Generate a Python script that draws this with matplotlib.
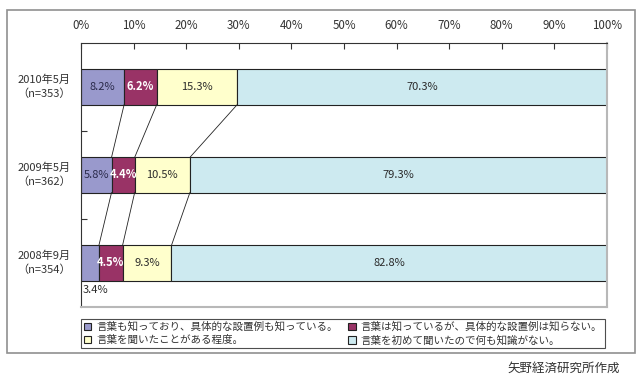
import matplotlib
matplotlib.use("Agg")
import matplotlib.pyplot as plt
from matplotlib.patches import Rectangle
import numpy as np

plt.rcParams['font.family'] = ['Noto Sans CJK JP', 'DejaVu Sans']

# ---- datos ----
periodos = ["2010年5月\n（n=353）", "2009年5月\n（n=362）", "2008年9月\n（n=354）"]
series = [
    "言葉も知っており、具体的な設置例も知っている。",
    "言葉は知っているが、具体的な設置例は知らない。",
    "言葉を聞いたことがある程度。",
    "言葉を初めて聞いたので何も知識がない。",
]
conoce_todo = [8.2, 5.8, 3.4]
conoce_palabra = [6.2, 4.4, 4.5]
escucho = [15.3, 10.5, 9.3]
nada = [70.3, 79.3, 82.8]
xticks = [0, 10, 20, 30, 40, 50, 60, 70, 80, 90, 100]

valores = [conoce_todo, conoce_palabra, escucho, nada]
colores = ["#9999cc", "#993366", "#ffffcc", "#cdeaf0"]
color_txt = ["#2a2a4a", "white", "#2a2a2a", "#2a2a2a"]

fig = plt.figure(figsize=(6.4, 3.76), dpi=100)
# marco exterior
fig.patches.append(Rectangle((7 / 640, 23 / 376), 628 / 640, 343 / 376,
                             transform=fig.transFigure, fill=False,
                             edgecolor="#909090", lw=1.2))

ax = fig.add_axes([81 / 640, 69 / 376, 526 / 640, 264 / 376])

y = np.arange(len(periodos))
alto = 0.4
izq = np.zeros(len(periodos))
handles = []
for s, vals in enumerate(valores):
    b = ax.barh(y, vals, left=izq, height=alto, color=colores[s],
                edgecolor="#222222", lw=0.8, label=series[s])
    handles.append(b)
    for i, v in enumerate(vals):
        if s == 0 and i == 2:
            ax.text(0.4, i + 0.31, f"{v}%", ha="left", va="center",
                    fontsize=8, color="#2a2a2a")
        else:
            ax.text(izq[i] + v / 2, i, f"{v}%", ha="center", va="center",
                    fontsize=8, color=color_txt[s],
                    fontweight="bold" if s == 1 else "normal")
    izq = izq + np.array(vals)

# lineas de conexion entre barras
acum = np.cumsum(np.array(valores), axis=0)
for s in range(3):
    for i in range(len(periodos) - 1):
        ax.plot([acum[s][i], acum[s][i + 1]], [i + alto / 2, i + 1 - alto / 2],
                color="#222222", lw=0.6)

ax.set_xlim(0, 100)
ax.set_ylim(2.5, -0.5)
ax.set_xticks(xticks)
ax.set_xticklabels([f"{t}%" for t in xticks])
ax.xaxis.tick_top()
ax.tick_params(axis="x", direction="in", length=4, pad=8, labelsize=8.3,
               colors="#333333")
ax.set_yticks([0.5, 1.5])
ax.set_yticklabels([])
ax.tick_params(axis="y", direction="in", length=4, colors="#333333")
for i, p in enumerate(periodos):
    ax.text(-0.07, i, p, transform=ax.get_yaxis_transform(), ha="center",
            va="center", fontsize=8, color="#333333", linespacing=1.4)

ax.spines["top"].set_color("#333333")
ax.spines["left"].set_color("#333333")
ax.spines["right"].set_color("#b8b8b8")
ax.spines["bottom"].set_color("#b8b8b8")
ax.spines["right"].set_linewidth(1.5)
ax.spines["bottom"].set_linewidth(1.5)

# leyenda por filas: (0, 1) arriba, (2, 3) abajo
orden = [0, 2, 1, 3]
leg = fig.legend(handles=[handles[k] for k in orden], ncol=2, mode="expand",
                 bbox_to_anchor=(81 / 640, 25 / 376, 524 / 640, 35 / 376),
                 loc="center", fontsize=7.6, frameon=True, fancybox=False,
                 handlelength=0.7, handleheight=0.7, handletextpad=0.5,
                 borderpad=0.25, labelspacing=0.3, borderaxespad=0)
leg.get_frame().set_edgecolor("#222222")
leg.get_frame().set_linewidth(0.8)
for t in leg.get_texts():
    t.set_color("#333333")

fig.text(620 / 640, 8 / 376, "矢野経済研究所作成", ha="right", va="center",
         fontsize=9, color="#333333")

fig.savefig("out.png", dpi=100)
